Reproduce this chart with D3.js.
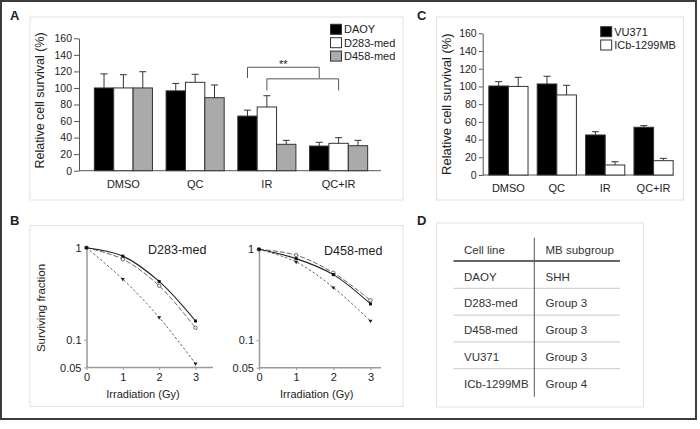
<!DOCTYPE html>
<html><head><meta charset="utf-8">
<script src="https://cdn.jsdelivr.net/npm/d3@7"></script>
<style>
html,body{margin:0;padding:0;background:#fff;}
svg{display:block;font-family:"Liberation Sans",Arial,sans-serif;}
</style></head>
<body>
<svg id="fig" width="700" height="429"></svg>
<script>
// ---------- DATA ----------
const treatments = ["DMSO", "QC", "IR", "QC+IR"];
const seriesA = ["DAOY", "D283-med", "D458-med"];
const daoyMean = [100, 96.5, 66, 29.8];
const daoyErr  = [17, 9, 7.2, 4.5];
const d283Mean = [100, 106.8, 77, 33.1];
const d283Err  = [16, 9.7, 13.6, 6.8];
const d458Mean = [100, 88.2, 31.9, 30.2];
const d458Err  = [19.6, 15.4, 4.8, 6.5];
const barTicks = [0, 20, 40, 60, 80, 100, 120, 140, 160];

const seriesC = ["VU371", "ICb-1299MB"];
const vu371Mean = [100.5, 102.8, 45.2, 53.9];
const vu371Err  = [4.9, 8.7, 3.7, 1.8];
const icbMean   = [100, 90.4, 11.3, 16.2];
const icbErr    = [10.3, 10.9, 3.7, 2.6];

// significance brackets in panel A (treatment pair, series index, top value, leg value)
const bracketFrom = ["IR", "IR"];
const bracketTo = ["QC+IR", "QC+IR"];
const bracketSeries = [0, 1];
const bracketTop = [125, 111];
const bracketLeg = [112, 97];
const sigLabel = "**";

const doses = [0, 1, 2, 3];
const survTicks = [0.05, 0.1, 1];
const survTickLabels = ["0.05", "0.1", "1"];
const d283Solid  = [1, 0.81, 0.43, 0.16];
const d283Dashed = [1, 0.75, 0.386, 0.135];
const d283Dotted = [1, 0.454, 0.175, 0.055];
const d458Solid  = [1, 0.79, 0.527, 0.251];
const d458Dashed = [1, 0.863, 0.552, 0.275];
const d458Dotted = [1, 0.726, 0.38, 0.163];

const tableHeader = ["Cell line", "MB subgroup"];
const cellLines = ["DAOY", "D283-med", "D458-med", "VU371", "ICb-1299MB"];
const subgroups = ["SHH", "Group 3", "Group 3", "Group 3", "Group 4"];

// ---------- DRAW ----------
const svg = d3.select("#fig");
const ink = "#222";

// outer frame
svg.append("rect").attr("x", 1).attr("y", 1).attr("width", 695).attr("height", 418)
  .attr("fill", "#fff").attr("stroke", "#3c3c3c").attr("stroke-width", 2);

// panel boxes
const boxes = [[30, 17, 373, 183], [436.5, 17, 247, 183], [30, 225.5, 373, 181], [436.5, 223, 207, 184]];
boxes.forEach(b => svg.append("rect").attr("x", b[0]).attr("y", b[1]).attr("width", b[2]).attr("height", b[3])
  .attr("fill", "none").attr("stroke", "#e2e2e2").attr("stroke-width", 1));

// panel letters
[["A", 10, 20], ["C", 417, 20], ["B", 10, 225], ["D", 417, 225]].forEach(p =>
  svg.append("text").attr("x", p[1]).attr("y", p[2]).text(p[0])
    .attr("font-weight", "bold").attr("font-size", 13).attr("fill", ink));

function barChart(opts) {
  const g = svg.append("g");
  const y = d3.scaleLinear().domain([0, 160]).range([opts.y0, opts.y160]);
  const x0 = d3.scaleBand().domain(treatments).range(opts.xRange)
    .paddingInner(opts.padIn).paddingOuter(opts.padOut);
  const x1 = d3.scaleBand().domain(d3.range(opts.means.length)).range([0, x0.bandwidth()]);
  // y axis
  const ya = g.append("g").attr("transform", `translate(${opts.axisX},0)`)
    .call(d3.axisLeft(y).tickValues(barTicks).tickSize(opts.tickSize).tickPadding(2).tickSizeOuter(0));
  ya.select(".domain").attr("stroke", "#555");
  ya.selectAll(".tick line").attr("stroke", "#555");
  ya.selectAll(".tick text").attr("font-size", 10.5).attr("fill", ink)
    .attr("font-family", "Liberation Sans, Arial, sans-serif");
  // x axis line
  g.append("line").attr("x1", opts.axisX).attr("x2", opts.axisEnd)
    .attr("y1", y(0)).attr("y2", y(0)).attr("stroke", "#555");
  // bars
  opts.means.forEach((vals, si) => {
    vals.forEach((v, ci) => {
      const bx = x0(treatments[ci]) + x1(si);
      const bw = x1.bandwidth();
      g.append("rect").attr("x", bx).attr("y", y(v)).attr("width", bw).attr("height", y(0) - y(v))
        .attr("fill", opts.fills[si]).attr("stroke", "#333").attr("stroke-width", 1);
      const cx = bx + bw / 2, e = y(v + opts.errs[si][ci]);
      g.append("line").attr("x1", cx).attr("x2", cx).attr("y1", y(v)).attr("y2", e).attr("stroke", "#333");
      g.append("line").attr("x1", cx - 3.5).attr("x2", cx + 3.5).attr("y1", e).attr("y2", e).attr("stroke", "#333");
    });
  });
  // category labels
  treatments.forEach(t => g.append("text").attr("x", x0(t) + x0.bandwidth() / 2 + (opts.labelShift||0)).attr("y", opts.labelY)
    .attr("text-anchor", "middle").attr("font-size", 11).attr("fill", ink).text(t));
  // y title
  g.append("text").attr("transform", `translate(${opts.titleX},${(opts.y0 + opts.y160) / 2 + opts.titleDy}) rotate(-90)`)
    .attr("text-anchor", "middle").attr("font-size", opts.titleSize).attr("fill", ink).text("Relative cell survival (%)");
  // legend
  opts.names.forEach((n, i) => {
    const ly = opts.legY + i * opts.legStep;
    g.append("rect").attr("x", opts.legX).attr("y", ly).attr("width", 11).attr("height", 10)
      .attr("fill", opts.fills[i]).attr("stroke", "#333");
    g.append("text").attr("x", opts.legX + 13.5).attr("y", ly + 9).attr("font-size", opts.legSize)
      .attr("fill", ink).text(n);
  });
  return {g, x0, x1, y};
}

const A = barChart({
  y0: 170.7, y160: 38.3, axisX: 79, axisEnd: 381, tickSize: 5,
  xRange: [80, 382], padIn: 0.19, padOut: 0.2,
  means: [daoyMean, d283Mean, d458Mean], errs: [daoyErr, d283Err, d458Err],
  fills: ["#000", "#fff", "#aaa"], names: seriesA,
  labelY: 187.5, titleX: 44, titleDy: -4, titleSize: 12.5,
  legX: 330.5, legY: 24.3, legStep: 13.4, legSize: 11
});

// significance brackets
bracketTop.forEach((tv, i) => {
  const si = bracketSeries[i];
  const xa = A.x0(bracketFrom[i]) + A.x1(si) + A.x1.bandwidth() / 2;
  const xb = A.x0(bracketTo[i]) + A.x1(si) + A.x1.bandwidth() / 2;
  const yt = A.y(tv), yl = A.y(bracketLeg[i]);
  A.g.append("path").attr("d", `M${xa},${yl}V${yt}H${xb}V${yl}`)
    .attr("fill", "none").attr("stroke", "#555").attr("stroke-width", 1);
  if (i === 0) {
    A.g.append("text").attr("x", (xa + xb) / 2).attr("y", yt + 0.5).attr("text-anchor", "middle")
      .attr("font-size", 11).attr("fill", ink).text(sigLabel);
  }
});

barChart({
  y0: 175, y160: 33.3, axisX: 482.7, axisEnd: 673.5, tickSize: 4,
  xRange: [484, 678], padIn: 0.19, padOut: 0.1,
  means: [vu371Mean, icbMean], errs: [vu371Err, icbErr],
  fills: ["#000", "#fff"], names: seriesC,
  labelY: 192, titleX: 451, titleDy: 0, titleSize: 13,
  legX: 600.7, legY: 26.7, legStep: 13.3, legSize: 11
});

// ---------- Panel B ----------
function survPlot(o) {
  const g = svg.append("g");
  const x = d3.scaleLinear().domain([0, 3]).range(o.xRange);
  const y = d3.scaleLog().domain([0.05, 1]).range(o.yRange);
  const xa = g.append("g").attr("transform", `translate(0,${o.yRange[0]})`)
    .call(d3.axisBottom(x).tickValues(doses).tickFormat(d3.format("d")).tickSize(2.5).tickPadding(3).tickSizeOuter(0));
  xa.select(".domain").attr("d", `M${o.xRange[0]},0H${o.axisEnd}`).attr("stroke", "#999").attr("stroke-width", 1.5);
  xa.selectAll(".tick line").attr("stroke", "#999");
  xa.selectAll(".tick text").attr("font-size", 11).attr("fill", ink).attr("font-family", "Liberation Sans, Arial, sans-serif");
  const ya = g.append("g").attr("transform", `translate(${o.xRange[0]},0)`)
    .call(d3.axisLeft(y).tickValues(survTicks).tickFormat((d, i) => survTickLabels[i]).tickSize(2.5).tickPadding(2.5).tickSizeOuter(0));
  ya.select(".domain").attr("stroke", "#999").attr("stroke-width", 1.5);
  ya.selectAll(".tick line").attr("stroke", "#999");
  ya.selectAll(".tick text").attr("font-size", 11).attr("fill", ink).attr("font-family", "Liberation Sans, Arial, sans-serif");

  const line = d3.line().x((d, i) => x(doses[i])).y(d => y(d)).curve(d3.curveCatmullRom.alpha(0.5));
  const styles = [
    {data: o.dotted, stroke: "#555", dash: "2.5,2", w: 0.9, marker: "tri"},
    {data: o.dashed, stroke: "#666", dash: "5,2", w: 1, marker: "open"},
    {data: o.solid, stroke: "#222", dash: null, w: 1.1, marker: "sq"}
  ];
  styles.forEach(s => {
    g.append("path").attr("d", line(s.data)).attr("fill", "none").attr("stroke", s.stroke)
      .attr("stroke-width", s.w).attr("stroke-dasharray", s.dash);
    s.data.forEach((v, i) => {
      const px = x(doses[i]), py = y(v);
      if (s.marker === "sq") g.append("rect").attr("x", px - 1.5).attr("y", py - 1.5).attr("width", 3).attr("height", 3).attr("fill", "#111");
      else if (s.marker === "open") g.append("circle").attr("cx", px).attr("cy", py).attr("r", 1.7).attr("fill", "#fff").attr("stroke", "#444").attr("stroke-width", 0.8);
      else g.append("path").attr("d", d3.symbol(d3.symbolTriangle, 7)()).attr("transform", `translate(${px},${py}) rotate(180)`).attr("fill", "#222");
    });
  });
  g.append("text").attr("x", o.titleX).attr("y", o.titleY).attr("font-size", 12.5).attr("fill", ink).text(o.title);
  g.append("text").attr("x", (o.xRange[0] + o.xRange[1]) / 2 + 2).attr("y", 398).attr("text-anchor", "middle")
    .attr("font-size", 11).attr("fill", ink).text("Irradiation (Gy)");
  return g;
}

survPlot({xRange: [86.5, 195.5], axisEnd: 213, yRange: [367.5, 247.7],
  solid: d283Solid, dashed: d283Dashed, dotted: d283Dotted, title: "D283-med", titleX: 148, titleY: 253.5});
svg.append("text").attr("transform", "translate(45,308) rotate(-90)").attr("text-anchor", "middle")
  .attr("font-size", 11.5).attr("fill", ink).text("Surviving fraction");
survPlot({xRange: [259, 370.5], axisEnd: 381, yRange: [367.7, 249.3],
  solid: d458Solid, dashed: d458Dashed, dotted: d458Dotted, title: "D458-med", titleX: 324, titleY: 254.5});

// ---------- Panel D ----------
const gD = svg.append("g");
const colX = [464, 545.5];
const headerY = 254;
const rowY0 = 280.5, rowStep = 26.8;
tableHeader.forEach((h, i) => gD.append("text").attr("x", colX[i]).attr("y", headerY)
  .attr("font-size", 11.5).attr("fill", "#333").text(h));
gD.append("line").attr("x1", 453.5).attr("x2", 620).attr("y1", 261).attr("y2", 261).attr("stroke", "#333").attr("stroke-width", 1.3);
cellLines.forEach((c, i) => {
  const ty = rowY0 + i * rowStep;
  gD.append("text").attr("x", colX[0]).attr("y", ty).attr("font-size", 11.5).attr("fill", "#333").text(c);
  gD.append("text").attr("x", colX[1]).attr("y", ty).attr("font-size", 11.5).attr("fill", "#333").text(subgroups[i]);
  if (i < cellLines.length - 1) {
    const ly = 288.3 + i * rowStep;
    gD.append("line").attr("x1", 453.5).attr("x2", 620).attr("y1", ly).attr("y2", ly).attr("stroke", "#c8c8c8").attr("stroke-width", 1);
  }
});
gD.append("line").attr("x1", 534.3).attr("x2", 534.3).attr("y1", 237.7).attr("y2", 396.7).attr("stroke", "#555").attr("stroke-width", 1);
</script>
</body></html>
